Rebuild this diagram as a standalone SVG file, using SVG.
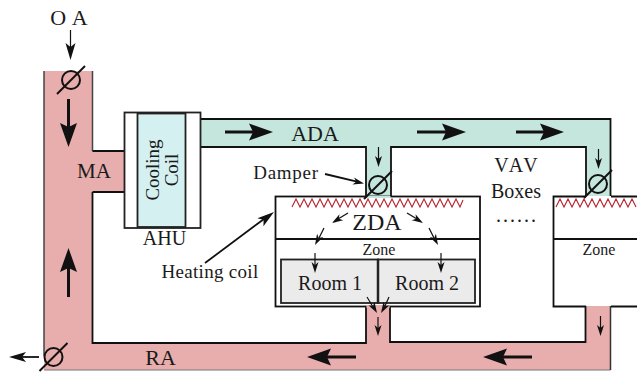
<svg xmlns="http://www.w3.org/2000/svg" width="637" height="373" viewBox="0 0 637 373">
<style>
text{font-family:"Liberation Serif","Times New Roman",serif;fill:#1a1a1a;font-kerning:none}
.l{fill:none;stroke:#111;stroke-width:1.8}
.thin{fill:none;stroke:#111;stroke-width:1.2}
.big{fill:none;stroke:#111;stroke-width:3}
.ah{fill:#111}
.d{fill:none;stroke:#111;stroke-width:2}
.zz{fill:none;stroke:#b8202c;stroke-width:1.100}
</style>
<defs>
<g id="damper"><circle r="9" class="d"/><line x1="-14" y1="14" x2="14" y2="-14" class="d"/></g>
<polygon id="bigh" class="ah" points="0,0 -24,-8.500 -20,0 -24,8.500"/>
<polygon id="smallh" class="ah" points="0,0 -17,-5 -13,0 -17,5"/>
<polygon id="tiny" class="ah" points="0,0 -11,-3.500 -8,0 -11,3.500"/>
</defs>
<g id="ducts">
<path id="ra-duct" fill="#e8adad" d="M44 71H92.500V151H124V192H92.500V343H366V306H390V342H585V306H610.500V370H44Z"/>
<path id="ada-duct" fill="#c5e6dc" d="M201 119H610V196H586V147H391V196H366V147H201Z"/>
</g>
<g id="connectors">
<path fill="none" stroke="#444" stroke-width="1.500" d="M44 71V356M92.500 71V151"/>
<path fill="none" stroke="#777" stroke-width="1.200" d="M44 370H610.500"/>
<path fill="none" stroke="#333" stroke-width="1.500" d="M610.500 370V306"/>
<path class="l" d="M92.500 151H124M92.500 192H124M92.500 192V343H366V306M390 306V342H585.500V306"/>
<path class="l" d="M201 119H610.500V196M201 147H366V196M391 196V147H586V196"/>
</g>
<g id="ahu">
<rect x="124.500" y="112.500" width="76" height="115.500" fill="#fff" stroke="#222" stroke-width="1.800"/>
<rect x="137.500" y="113.500" width="48" height="113.500" fill="#d5f0f0" stroke="#222" stroke-width="1.800"/>
<text transform="translate(159,170) rotate(-90)" font-size="19" text-anchor="middle">Cooling</text>
<text transform="translate(178,170) rotate(-90)" font-size="19" text-anchor="middle">Coil</text>
<text x="164.500" y="245" font-size="20" text-anchor="middle">AHU</text>
</g>
<g id="zone1">
<rect x="275.500" y="196.500" width="204.500" height="110" fill="#fff" stroke="#111" stroke-width="1.800"/>
<line x1="275.500" y1="239" x2="480" y2="239" class="l"/>
<rect x="366.500" y="305" width="23" height="3" fill="#e8adad"/>
<rect x="367" y="196" width="23.500" height="2" fill="#c5e6dc"/>
<polyline class="zz" points="292,207 296,199 300,207 304,199 308,207 312,199 316,207 320,199 324,207 328,199 332,207 336,199 340,207 344,199 348,207 352,199 356,207 360,199 364,207 368,199 372,207 376,199 380,207 384,199 388,207 392,199 396,207 400,199 404,207 408,199 412,207 416,199 420,207 424,199 428,207 432,199 436,207 440,199 444,207 448,199 452,207 456,199 460,207 463,200"/>
<text x="377" y="230" font-size="24" text-anchor="middle">ZDA</text>
<text x="379" y="255" font-size="16" text-anchor="middle">Zone</text>
</g>
<g id="rooms">
<rect x="281" y="259.500" width="97" height="43.500" fill="#ebebeb" stroke="#222" stroke-width="1.800"/>
<rect x="378" y="259.500" width="97" height="43.500" fill="#ebebeb" stroke="#222" stroke-width="1.800"/>
<line x1="378" y1="259.500" x2="378" y2="303" stroke="#222" stroke-width="2.500"/>
<text x="330" y="290" font-size="20" text-anchor="middle">Room 1</text>
<text x="427" y="290" font-size="20" text-anchor="middle">Room 2</text>
</g>
<g id="zone2">
<path fill="#fff" stroke="none" d="M554 197H637V306H554Z"/>
<path class="l" d="M637 196.500H611M586 196.500H553.500V306.500H586M611 306.500H637M553.500 239H637"/>
<polyline class="zz" points="556,207 560,199 564,207 568,199 572,207 576,199 580,207 584,199 588,207 592,199 596,207 600,199 604,207 608,199 612,207 616,199 620,207 624,199 628,207 632,199 636,207"/>
<text x="599" y="255" font-size="16" text-anchor="middle">Zone</text>
</g>
<g id="labels">
<text x="69" y="25" font-size="22" text-anchor="middle">O A</text>
<text x="94" y="178" font-size="21" text-anchor="middle">MA</text>
<text x="315" y="141" font-size="22" text-anchor="middle">ADA</text>
<text x="286" y="179" font-size="19" text-anchor="middle" letter-spacing="0.700">Damper</text>
<text x="516" y="172" font-size="20" text-anchor="middle">VAV</text>
<text x="516" y="198" font-size="20" text-anchor="middle">Boxes</text>
<text x="496" y="222" font-size="20" letter-spacing="2">......</text>
<text x="210" y="278" font-size="19" text-anchor="middle" letter-spacing="0.300">Heating coil</text>
<text x="160.500" y="365" font-size="22" text-anchor="middle">RA</text>
</g>
<g id="dampers">
<use href="#damper" x="71" y="80"/>
<use href="#damper" x="378" y="185"/>
<use href="#damper" x="598" y="184"/>
<use href="#damper" x="53.500" y="357"/>
</g>
<g id="arrows">
<line x1="70.500" y1="30" x2="70.500" y2="48" class="thin"/><use href="#smallh" transform="translate(70.500,60) rotate(90)"/>
<line x1="68.500" y1="99" x2="68.500" y2="128" class="big"/><use href="#bigh" transform="translate(68.500,147) rotate(90)"/>
<line x1="68.500" y1="297" x2="68.500" y2="268" class="big"/><use href="#bigh" transform="translate(68.500,248) rotate(-90)"/>
<line x1="225" y1="132" x2="254" y2="132" class="big"/><use href="#bigh" transform="translate(273,132)"/>
<line x1="417" y1="132" x2="448" y2="132" class="big"/><use href="#bigh" transform="translate(466,132)"/>
<line x1="516" y1="132" x2="546" y2="132" class="big"/><use href="#bigh" transform="translate(564,132)"/>
<line x1="356" y1="357" x2="326" y2="357" class="big"/><use href="#bigh" transform="translate(307,357) rotate(180)"/>
<line x1="532" y1="357" x2="502" y2="357" class="big"/><use href="#bigh" transform="translate(483,357) rotate(180)"/>
<line x1="39" y1="357" x2="20" y2="357" class="l"/><use href="#smallh" transform="translate(9,357) rotate(180)"/>
<line x1="378.500" y1="147" x2="378.500" y2="160" class="thin"/><use href="#tiny" transform="translate(378.500,167) rotate(90)"/>
<line x1="598.500" y1="149" x2="598.500" y2="162" class="thin"/><use href="#tiny" transform="translate(598.500,169) rotate(90)"/>
<line x1="600.500" y1="316" x2="600.500" y2="329" class="thin"/><use href="#tiny" transform="translate(600.500,336) rotate(90)"/>
<line x1="325" y1="174" x2="357" y2="181.700" class="l"/><use href="#tiny" transform="translate(364,183.500) rotate(13)"/>
<line x1="205" y1="263" x2="266" y2="217.500" stroke="#111" stroke-width="1.800"/><use href="#smallh" transform="translate(274,212) rotate(-37)"/>
<line x1="348" y1="213" x2="338" y2="219" class="thin"/><use href="#tiny" transform="translate(332,223) rotate(148)"/>
<line x1="407" y1="213" x2="417" y2="219" class="thin"/><use href="#tiny" transform="translate(423,223) rotate(32)"/>
<line x1="324" y1="228" x2="319" y2="238" class="thin"/><use href="#tiny" transform="translate(315,245) rotate(118)"/>
<line x1="429" y1="228" x2="434" y2="238" class="thin"/><use href="#tiny" transform="translate(438,245) rotate(62)"/>
<line x1="315" y1="253" x2="315" y2="266" class="thin"/><use href="#tiny" transform="translate(315,273) rotate(90)"/>
<line x1="441" y1="253" x2="441" y2="266" class="thin"/><use href="#tiny" transform="translate(441,273) rotate(90)"/>
<line x1="367" y1="297" x2="373" y2="307" class="thin"/><use href="#tiny" transform="translate(377,313) rotate(60)"/>
<line x1="389" y1="297" x2="384.500" y2="307" class="thin"/><use href="#tiny" transform="translate(381,313) rotate(120)"/>
<line x1="378" y1="317" x2="378" y2="329" class="thin"/><use href="#tiny" transform="translate(378,336) rotate(90)"/>
</g>
</svg>
